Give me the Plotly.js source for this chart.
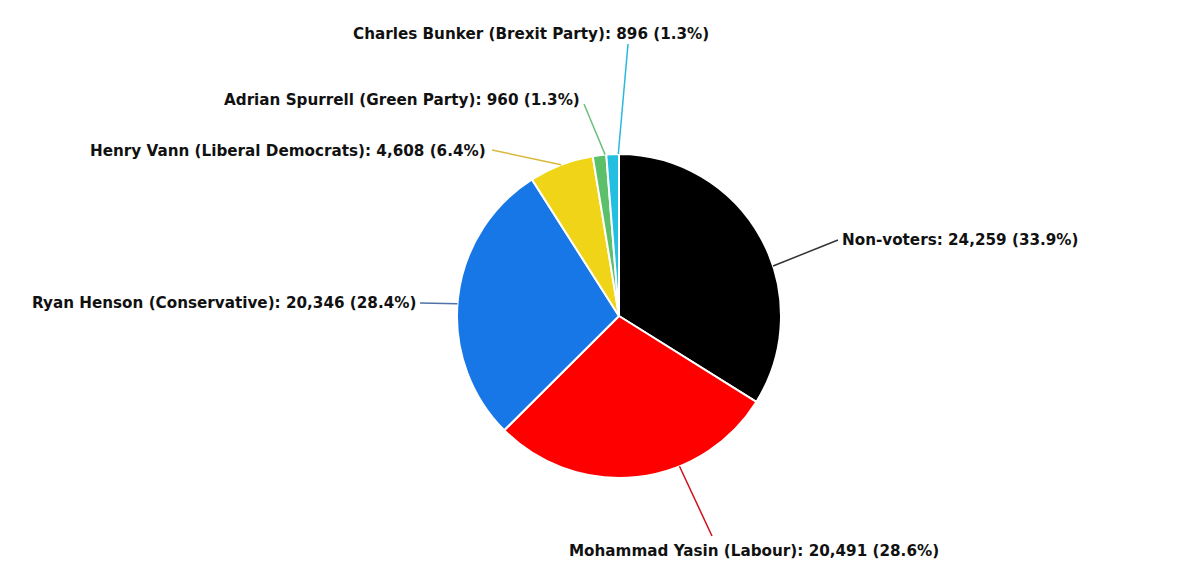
<!DOCTYPE html>
<html>
<head>
<meta charset="utf-8">
<script src="https://cdn.plot.ly/plotly-3.0.1.min.js"></script>
<style>html,body{margin:0;padding:0;background:#fff;}#chart{width:1200px;height:567px;}</style>
</head>
<body>
<div id="chart"></div>
<script>
// ---- data ----
const candidates = ["Non-voters", "Mohammad Yasin (Labour)", "Ryan Henson (Conservative)", "Henry Vann (Liberal Democrats)", "Adrian Spurrell (Green Party)", "Charles Bunker (Brexit Party)"];
const votes = [24259, 20491, 20346, 4608, 960, 896];
const sliceColors = ["#000000", "#ff0000", "#1877e6", "#f0d417", "#5cbf6a", "#22bfe0"];
const lineColors = ["#333333", "#d0111b", "#4f72a8", "#d9b83a", "#6cbf7e", "#28b9dc"];

// ---- layout helpers (pixels) ----
const W = 1200, H = 567;
const CX = 619, CY = 316, R = 162;
// leader line end points and label anchoring (layout, not data)
const labelEnds = [[838, 240], [712, 536], [420, 303], [492, 150], [584, 104], [628, 44]];
const labelText = [[840, 240, "left", "middle"], [754, 551, "center", "middle"], [418, 303, "right", "middle"], [488, 151, "right", "middle"], [582, 100, "right", "middle"], [531, 34, "center", "middle"]];
const angleNudge = [11, -15.5, -2, 0, 2, 2];

const total = votes.reduce((a, b) => a + b, 0);
const fmt = n => n.toLocaleString("en-US");
const px = x => x / W, py = y => 1 - y / H;

const shapes = [], annotations = [];
let cum = 0;
votes.forEach((v, i) => {
  const mid = (cum + v / 2) / total * 360 + angleNudge[i];
  cum += v;
  const a = mid * Math.PI / 180;
  const sx = CX + R * Math.sin(a), sy = CY - R * Math.cos(a);
  shapes.push({type: "line", xref: "paper", yref: "paper",
    x0: px(sx), y0: py(sy), x1: px(labelEnds[i][0]), y1: py(labelEnds[i][1]),
    line: {color: lineColors[i], width: 1.5}});
  const pct = (v / total * 100).toFixed(1);
  const t = labelText[i];
  annotations.push({xref: "paper", yref: "paper", x: px(t[0]), y: py(t[1]),
    xanchor: t[2], yanchor: t[3], showarrow: false,
    text: "<b>" + candidates[i] + ": " + fmt(v) + " (" + pct + "%)</b>",
    font: {family: "DejaVu Sans, Verdana, sans-serif", size: 15.2, color: "#111111"}});
});

const trace = {
  type: "pie",
  labels: candidates,
  values: votes,
  sort: false,
  direction: "clockwise",
  rotation: 0,
  textinfo: "none",
  marker: {colors: sliceColors, line: {color: "#ffffff", width: 2}},
  domain: {x: [px(CX - R), px(CX + R)], y: [py(CY + R), py(CY - R)]},
  showlegend: false
};

Plotly.newPlot("chart", [trace], {
  width: W, height: H,
  margin: {l: 0, r: 0, t: 0, b: 0},
  paper_bgcolor: "#ffffff",
  showlegend: false,
  shapes: shapes,
  annotations: annotations
}, {displayModeBar: false, staticPlot: true});
</script>
</body>
</html>
